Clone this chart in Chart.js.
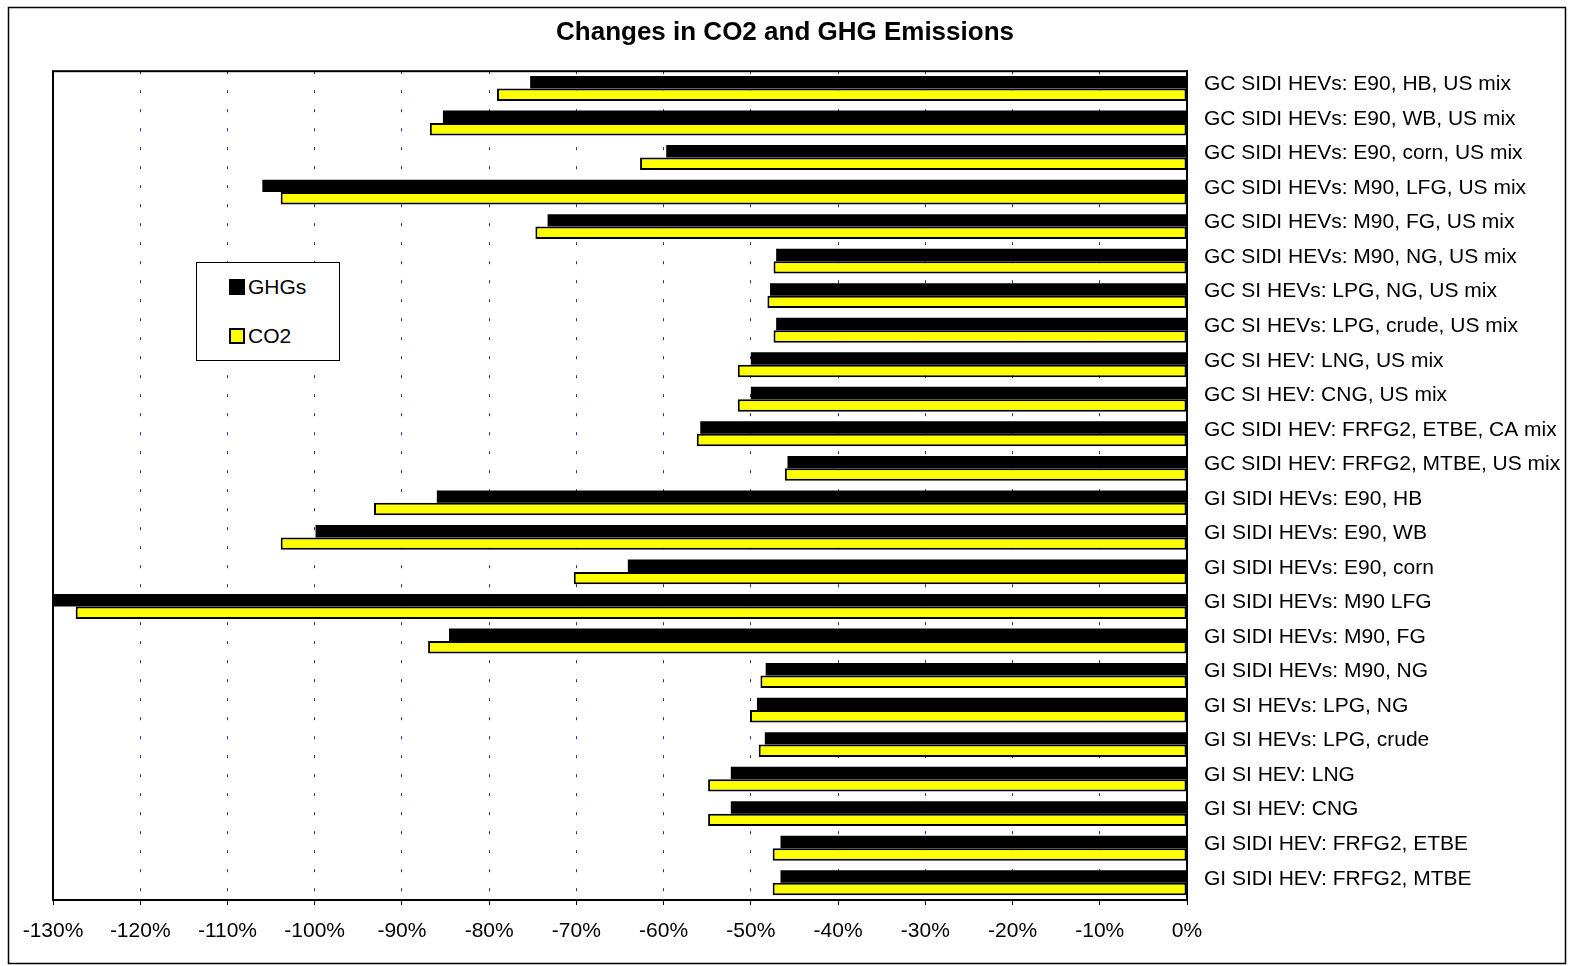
<!DOCTYPE html>
<html>
<head>
<meta charset="utf-8">
<script src="https://cdn.jsdelivr.net/npm/chart.js@4"></script>
<style>
  body { margin: 0; background: #fff; }
  #wrap { position: relative; width: 1570px; height: 966px; }
  #legendBox {
    position: absolute; left: 196px; top: 262px; width: 142px; height: 97px;
    border: 1px solid #000; background: #fff;
    font-family: "Liberation Sans", Arial, sans-serif; font-size: 21px; color: #000;
  }
  .item { position: absolute; left: 32px; display: flex; align-items: center; }
  .swatch { width: 16px; height: 16px; margin-right: 3px; box-sizing: border-box; }
</style>
</head>
<body>
<div id="wrap">
  <canvas id="emissionsChart"></canvas>
  <div id="legendBox"></div>
</div>
<script>
const categories = [
  'GC SIDI HEVs: E90, HB, US mix',
  'GC SIDI HEVs: E90, WB, US mix',
  'GC SIDI HEVs: E90, corn, US mix',
  'GC SIDI HEVs: M90, LFG, US mix',
  'GC SIDI HEVs: M90, FG, US mix',
  'GC SIDI HEVs: M90, NG, US mix',
  'GC SI HEVs: LPG, NG, US mix',
  'GC SI HEVs: LPG, crude, US mix',
  'GC SI HEV: LNG, US mix',
  'GC SI HEV: CNG, US mix',
  'GC SIDI HEV: FRFG2, ETBE, CA mix',
  'GC SIDI HEV: FRFG2, MTBE, US mix',
  'GI SIDI HEVs: E90, HB',
  'GI SIDI HEVs: E90, WB',
  'GI SIDI HEVs: E90, corn',
  'GI SIDI HEVs: M90 LFG',
  'GI SIDI HEVs: M90, FG',
  'GI SIDI HEVs: M90, NG',
  'GI SI HEVs: LPG, NG',
  'GI SI HEVs: LPG, crude',
  'GI SI HEV: LNG',
  'GI SI HEV: CNG',
  'GI SIDI HEV: FRFG2, ETBE',
  'GI SIDI HEV: FRFG2, MTBE'
];

// percent change vs baseline
const ghgValues = [-75.3, -85.3, -59.7, -106.0, -73.3, -47.1, -47.8, -47.1, -50.0, -50.0, -55.8, -45.8,
                   -86.0, -99.9, -64.1, -130.8, -84.6, -48.3, -49.3, -48.4, -52.3, -52.3, -46.6, -46.6];
const co2Values = [-79.1, -86.8, -62.7, -103.9, -74.7, -47.4, -48.1, -47.4, -51.5, -51.5, -56.2, -46.1,
                   -93.2, -103.9, -70.3, -127.4, -87.0, -48.9, -50.1, -49.1, -54.9, -54.9, -47.5, -47.5];

const xMin = -130;
const xMax = 0;
const xStep = 10;

const font = '"Liberation Sans", Arial, sans-serif';

// frame around the whole picture and around the plot area
const framePlugin = {
  id: 'frames',
  afterDraw(chart) {
    const ctx = chart.ctx;
    const a = chart.chartArea;
    ctx.save();
    ctx.strokeStyle = '#000';
    ctx.lineWidth = 1.5;
    ctx.strokeRect(8.5, 7.5, 1557, 956);
    ctx.lineWidth = 2;
    ctx.strokeRect(a.left, a.top, a.right - a.left, a.bottom - a.top);
    ctx.restore();
  }
};

const datasets = [
  { label: 'GHGs', data: ghgValues, backgroundColor: '#000000', borderColor: '#000000', borderWidth: 0 },
  { label: 'CO2', data: co2Values, backgroundColor: '#ffff00', borderColor: '#000000', borderWidth: 2, borderSkipped: false }
];

const ctx = document.getElementById('emissionsChart').getContext('2d');
new Chart(ctx, {
  type: 'bar',
  data: { labels: categories, datasets: datasets },
  options: {
    indexAxis: 'y',
    responsive: true,
    maintainAspectRatio: false,
    devicePixelRatio: 1,
    animation: false,
    layout: { padding: 0 },
    datasets: { bar: { barPercentage: 1.0, categoryPercentage: 0.72 } },
    plugins: {
      legend: { display: false },
      tooltip: { enabled: false },
      title: {
        display: true,
        text: 'Changes in CO2 and GHG Emissions',
        color: '#000',
        font: { family: font, size: 26, weight: 'bold' },
        padding: { top: 17, bottom: 23 }
      }
    },
    scales: {
      x: {
        min: xMin,
        max: xMax,
        ticks: {
          stepSize: xStep,
          color: '#000',
          font: { family: font, size: 21 },
          padding: 14,
          callback: v => v + '%'
        },
        grid: {
          color: '#2b2b8a',
          lineWidth: 1,
          tickLength: 5,
          tickColor: '#000'
        },
        border: { display: true, color: '#000', width: 2, dash: [3, 16] },
        afterFit(scale) { scale.height = 66; }
      },
      y: {
        position: 'right',
        ticks: {
          color: '#000',
          font: { family: font, size: 21 },
          padding: 9,
          labelOffset: -4
        },
        grid: { display: false },
        border: { display: true, color: '#000', width: 2 },
        afterFit(scale) { scale.width = 383; }
      },
      // empty left axis, only there to hold the plot's left margin
      yLeft: {
        type: 'category',
        position: 'left',
        ticks: { display: false },
        grid: { display: false },
        border: { display: false },
        afterFit(scale) { scale.width = 53; }
      }
    }
  },
  plugins: [framePlugin]
});

// legend box drawn as html, from dataset labels/colours
const legendBox = document.getElementById('legendBox');
datasets.forEach((ds, i) => {
  const item = document.createElement('div');
  item.className = 'item';
  item.style.top = (i === 0 ? 12 : 61) + 'px';
  const sw = document.createElement('span');
  sw.className = 'swatch';
  sw.style.background = ds.backgroundColor;
  sw.style.border = '2px solid #000';
  item.appendChild(sw);
  item.appendChild(document.createTextNode(ds.label));
  legendBox.appendChild(item);
});
</script>
</body>
</html>
